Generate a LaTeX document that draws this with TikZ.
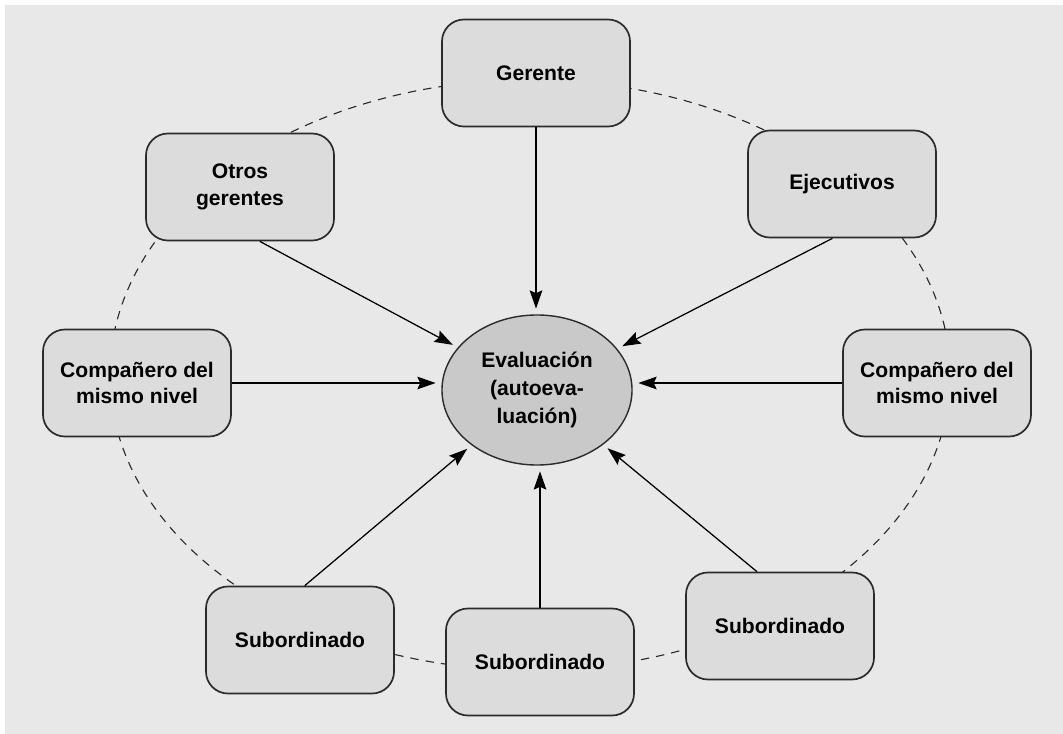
\documentclass[tikz,border=0pt]{standalone}
\usepackage{fontspec}
\setmainfont{Liberation Sans}
\usetikzlibrary{arrows.meta,shapes.geometric,backgrounds}
\definecolor{fondo}{HTML}{E8E8E8}
\definecolor{griscaja}{HTML}{DCDCDC}
\definecolor{grisoval}{HTML}{C9C9C9}
\definecolor{borde}{HTML}{2B2B2B}
\tikzset{
    %Define standard arrow tip
    >={Stealth[length=13pt,width=9pt,inset=2pt]},
    %Define style for boxes
    caja/.style={
           rectangle,
           rounded corners=0.55cm,
           draw=borde, line width=1.2pt,
           fill=griscaja,
           minimum width=4.7cm,
           minimum height=2.675cm,
           align=center,
           font=\bfseries\fontsize{15}{19}\selectfont},
    %Define style for the centre
    centro/.style={
           ellipse,
           draw=borde, line width=1pt,
           fill=grisoval,
           minimum width=4.75cm,
           minimum height=3.75cm,
           inner sep=0pt,
           align=center,
           font=\bfseries\fontsize{15}{20}\selectfont},
    % Define arrow style
    flecha/.style={
           ->,
           draw=black, line width=0.9pt,
           shorten >=4pt,},
    % Define style for the ring
    anillo/.style={
           draw=borde, line width=0.8pt,
           dash pattern=on 6pt off 5pt}
}
\begin{document}
\begin{tikzpicture}[x=0.025cm,y=-0.025cm]
    \useasboundingbox (0,0) rectangle (1063,734);
    \node (eval) [centro] at (537,390)
          {Evaluación\\(autoeva-\\luación)};
    \node (gerente) [caja] at (536,73) {Gerente};
    \node (otros) [caja] at (240,187) {Otros\\gerentes};
    \node (ejec) [caja] at (842,184) {Ejecutivos};
    \node (comp1) [caja] at (137,383) {Compañero del\\mismo nivel};
    \node (comp2) [caja] at (937,383) {Compañero del\\mismo nivel};
    \node (sub1) [caja] at (300,640) {Subordinado};
    \node (sub2) [caja] at (540,662) {Subordinado};
    \node (sub3) [caja] at (780,626) {Subordinado};
    % arrows into the centre
    \draw[flecha] (gerente.south) -- (gerente.south |- eval.north);
    \draw[flecha] (otros.-70) -- (eval);
    \draw[flecha] (ejec.-100) -- (eval);
    \draw[flecha] (comp1.east) -- (comp1.east -| eval.west);
    \draw[flecha] (comp2.west) -- (comp2.west -| eval.east);
    \draw[flecha] (sub1.85) -- (eval);
    \draw[flecha] (sub2.north) -- (sub2.north |- eval.south);
    \draw[flecha] (sub3.113) -- (eval);
    \begin{pgfonlayer}{background}
      \fill[white] (0,0) rectangle (1063,734);
      \fill[fondo] (5,5) rectangle (1063,734);
      \draw[anillo] (530,375) ellipse [x radius=10.5cm, y radius=7.375cm];
    \end{pgfonlayer}
  \end{tikzpicture}
\end{document}
